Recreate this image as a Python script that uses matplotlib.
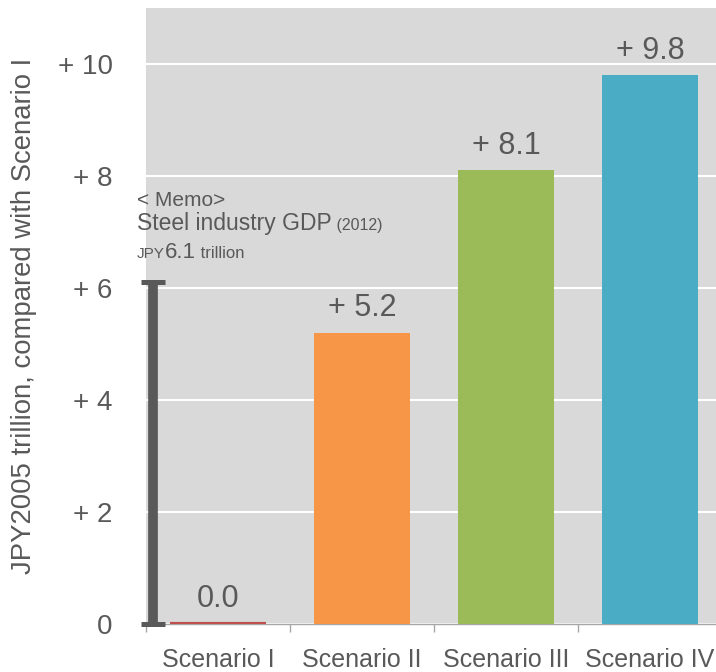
import matplotlib.pyplot as plt

# values (JPY2005 trillion, difference vs Scenario I)
scenarios = ['Scenario I', 'Scenario II', 'Scenario III', 'Scenario IV']
values = [0.0, 5.2, 8.1, 9.8]
labels = ['0.0', '+ 5.2', '+ 8.1', '+ 9.8']
colors = ['#C0504D', '#F79646', '#9BBB59', '#4BACC6']
yticks = [0, 2, 4, 6, 8, 10]
ytick_labels = ['0', '+ 2', '+ 4', '+ 6', '+ 8', '+ 10']
steel_gdp = 6.1

txt = '#595959'
fam = ['Liberation Sans', 'DejaVu Sans']
plt.rcParams['font.family'] = fam

fig = plt.figure(figsize=(7.16, 6.72), dpi=100)
ax = fig.add_axes([146 / 716, 1 - 624 / 672, 576 / 716, 616 / 672])
ax.set_facecolor('#D9D9D9')

x = list(range(len(scenarios)))
bars = ax.bar(x, values, width=0.667, color=colors, zorder=3)
# zero-height bar still shows as a thin line
bars[0].set_edgecolor(colors[0])
bars[0].set_linewidth(3)

for xi, v, lab in zip(x, values, labels):
    ax.annotate(lab, (xi, v), xytext=(0, 12), textcoords='offset points',
                ha='center', va='baseline', fontsize=22, color=txt)

# memo bar: steel industry GDP
ax.errorbar([-0.45], [steel_gdp / 2], yerr=[steel_gdp / 2], fmt='none',
            ecolor='#595959', elinewidth=7, capsize=8.5, capthick=3.6,
            zorder=4, clip_on=False)

ax.set_xlim(-0.5, 3.5)
ax.set_ylim(0, 11.0)
ax.set_yticks(yticks)
ax.set_yticklabels(ytick_labels, fontsize=20, color=txt)
ax.tick_params(axis='y', length=0, pad=24)
ax.set_xticks(x)
ax.set_xticklabels(scenarios, fontsize=18, color=txt)
ax.set_xticks([-0.5, 0.5, 1.5, 2.5, 3.5], minor=True)
ax.tick_params(axis='x', which='major', length=0, pad=17)
ax.tick_params(axis='x', which='minor', length=6, color='#A6A6A6', width=1)
ax.grid(axis='y', color='white', linewidth=1.5, zorder=1)
ax.set_axisbelow(True)
for side in ['top', 'right', 'left']:
    ax.spines[side].set_visible(False)
ax.spines['bottom'].set_color('#A6A6A6')
ax.spines['bottom'].set_linewidth(1)

ax.set_ylabel('JPY2005 trillion, compared with Scenario I', fontsize=19.8,
              color=txt)
ax.yaxis.set_label_coords(-0.19, 0.5)

# memo text
ax.text(-0.5625, 7.56, '< Memo>', fontsize=15, color=txt, va='center')
t = ax.text(-0.5625, 7.03, 'Steel industry GDP', fontsize=16.5, color=txt,
            va='baseline')
fig.canvas.draw()
ren = fig.canvas.get_renderer()
inv = ax.transData.inverted()


def after(prev, s, size, y):
    x_end = prev.get_window_extent(ren).x1
    xd = inv.transform((x_end, 0))[0]
    return ax.text(xd, y, s, fontsize=size, color=txt, va='baseline')


after(t, ' (2012)', 11.5, 7.03)
t2 = ax.text(-0.5625, 6.53, 'JPY', fontsize=11, color=txt, va='baseline')
fig.canvas.draw()
t3 = after(t2, '6.1', 16, 6.53)
fig.canvas.draw()
after(t3, ' trillion', 12, 6.53)

fig.savefig('out.png', dpi=100)
